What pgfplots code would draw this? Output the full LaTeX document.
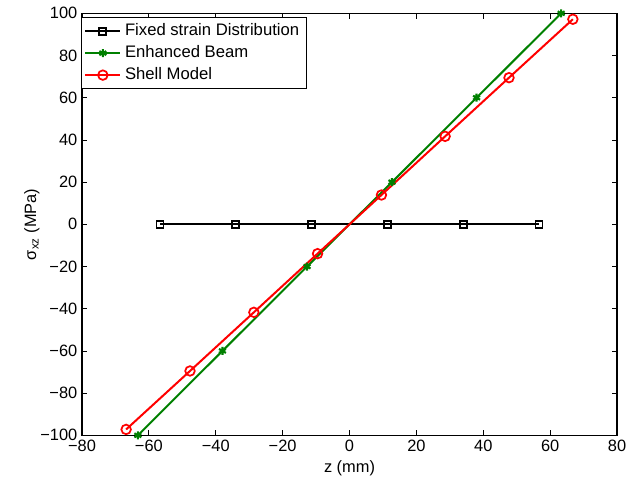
\documentclass[border=0pt]{standalone}
\usepackage{fontspec}
\setmainfont{Liberation Sans}
\usepackage{pgfplots}
\pgfplotsset{compat=1.18}
\definecolor{mgreen}{rgb}{0,0.5,0}
\begin{document}
\begin{tikzpicture}
\begin{axis}[
  scale only axis,
  width=401.25pt, height=316.5pt,
  at={(0,0)}, anchor=south west,
  xmin=-80, xmax=80, ymin=-100, ymax=100,
  xtick={-80,-60,...,80},
  xticklabels={−80,−60,−40,−20,0,20,40,60,80},
  ytick={-100,-80,...,100},
  yticklabels={−100,−80,−60,−40,−20,0,20,40,60,80,100},
  tick align=inside,
  major tick length=4pt,
  axis line style={line width=0.8pt},
  every tick/.style={black, line width=0.6pt},
  tick label style={font=\fontsize{12.3}{14}\selectfont},
  xlabel={z (mm)},
  every axis x label/.style={at={(axis description cs:0.5,-0.0775)}, anchor=center, font=\fontsize{12.3}{14}\selectfont},
  legend cell align=left,
  legend style={at={(axis description cs:0,1)}, anchor=north west, xshift=-1pt, yshift=-3pt,
    draw=black, line width=0.6pt, inner xsep=2.5pt, inner ysep=1.8pt,
    font=\fontsize{12.5}{15}\selectfont,
    nodes={inner ysep=2.25pt, inner xsep=2.8pt, text height=9pt, text depth=3pt}},
  legend image code/.code={\draw[mark repeat=2,mark phase=2] plot coordinates {(0cm,0cm) (0.46cm,0cm) (0.92cm,0cm)};},
]
\addplot[black, line width=1.5pt, mark=square, mark size=2.6pt, mark options={line width=1.4pt}]
  coordinates {(-56.67,0) (-34,0) (-11.33,0) (11.33,0) (34,0) (56.67,0)};
\addlegendentry{Fixed strain Distribution}
\addplot[mgreen, line width=1.5pt, mark=asterisk, mark size=3pt, mark options={line width=1.6pt}]
  coordinates {(-63.3,-100) (-38,-60) (-12.7,-20) (12.7,20) (38,60) (63.3,100)};
\addlegendentry{Enhanced Beam}
\addplot[red, line width=1.5pt, mark=o, mark size=3.6pt, mark options={line width=1.3pt}]
  coordinates {(-66.8,-97.2) (-47.7,-69.5) (-28.6,-41.7) (-9.55,-13.9) (9.55,13.9) (28.6,41.7) (47.7,69.5) (66.8,97.2)};
\addlegendentry{Shell Model}
\end{axis}
\node[rotate=90, anchor=center, font=\fontsize{12.3}{14}\selectfont] at (-37.5pt,158.25pt) {σ\textsubscript{xz} (MPa)};
\path (-61.5pt,-36.5pt) rectangle (419.25pt,326.5pt);
\end{tikzpicture}
\end{document}
